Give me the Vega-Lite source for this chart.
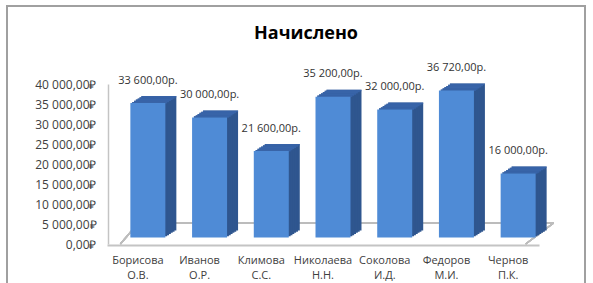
{
  "$schema": "https://vega.github.io/schema/vega-lite/v6.json",
  "width": 578,
  "height": 300,
  "padding": {"left": 7, "top": 6, "right": 8, "bottom": 0},
  "autosize": {"type": "none"},
  "background": "white",
  "title": {"text": "Начислено", "fontSize": 18, "fontWeight": "bold", "font": "Open Sans", "color": "#000000", "anchor": "middle", "offset": -37, "dx": 10},
  "config": {
    "locale": {"number": {"decimal": ",", "thousands": " ", "grouping": [3], "currency": ["", "р."]}},
    "view": {"stroke": "#a0a0a0", "strokeWidth": 2},
    "font": "Open Sans"
  },
  "data": {"values": [
    {"name": "Борисова О.В.", "value": 33600},
    {"name": "Иванов О.Р.", "value": 30000},
    {"name": "Климова С.С.", "value": 21600},
    {"name": "Николаева Н.Н.", "value": 35200},
    {"name": "Соколова И.Д.", "value": 32000},
    {"name": "Федоров М.И.", "value": 36720},
    {"name": "Чернов П.К.", "value": 16000}
  ]},
  "encoding": {
    "x": {"field": "name", "type": "nominal", "sort": null,
      "scale": {"domain": ["Борисова О.В.", "Иванов О.Р.", "Климова С.С.", "Николаева Н.Н.", "Соколова И.Д.", "Федоров М.И.", "Чернов П.К."], "range": [100, 532], "paddingInner": 0.433, "paddingOuter": 0.2165},
      "axis": {"title": null, "orient": "bottom", "offset": -61, "domainColor": "#c4c4c4", "domainWidth": 2, "ticks": false, "labelPadding": 9, "labelFontSize": 11, "labelColor": "#404040", "labelExpr": "split(datum.label, ' ')", "labelLineHeight": 15, "labelAngle": 0, "labelBaseline": "top"}},
    "y": {"field": "value", "type": "quantitative",
      "scale": {"domain": [0, 40000], "range": [238, 78], "nice": false, "zero": true},
      "axis": {"title": null, "offset": -101, "values": [0, 5000, 10000, 15000, 20000, 25000, 30000, 35000, 40000], "labelExpr": "format(datum.value, ',.2f') + '₽'", "domainColor": "#c4c4c4", "domainWidth": 1.5, "ticks": false, "tickSize": 0, "grid": false, "labelPadding": 12, "labelFontSize": 12, "labelColor": "#404040"}}
  },
  "layer": [
    {"mark": {"type": "rule", "color": "#bdbdbd", "strokeWidth": 1.5, "xOffset": 18, "x2Offset": 28},
     "encoding": {"x": {"datum": "Борисова О.В.", "bandPosition": 0}, "x2": {"datum": "Чернов П.К.", "bandPosition": 1}, "y": {"datum": 5250}}},
    {"mark": {"type": "rule", "color": "#bdbdbd", "strokeWidth": 1.5, "x2Offset": 18},
     "encoding": {"x": {"datum": "Борисова О.В.", "bandPosition": 0}, "x2": {"datum": "Борисова О.В.", "bandPosition": 0}, "y": {"datum": 0}, "y2": {"datum": 5250}}},
    {"mark": {"type": "rule", "color": "#bdbdbd", "strokeWidth": 1.5, "x2Offset": 28},
     "encoding": {"x": {"datum": "Чернов П.К.", "bandPosition": 1}, "x2": {"datum": "Чернов П.К.", "bandPosition": 1}, "y": {"datum": 0}, "y2": {"datum": 5250}}},
    {"mark": {"type": "bar", "color": "#2f568f", "xOffset": 21, "yOffset": -13.5}},
    {"mark": {"type": "bar", "color": "#2f568f", "xOffset": 19.17, "yOffset": -12.33}},
    {"mark": {"type": "bar", "color": "#2f568f", "xOffset": 17.33, "yOffset": -11.17}},
    {"mark": {"type": "bar", "color": "#2f568f", "xOffset": 15.5, "yOffset": -10}},
    {"mark": {"type": "bar", "color": "#2f568f", "xOffset": 13.67, "yOffset": -8.83}},
    {"mark": {"type": "bar", "color": "#2f568f", "xOffset": 11.83, "yOffset": -7.67}},
    {"mark": {"type": "tick", "color": "#3c6ab0", "size": 35, "thickness": 1.5, "orient": "horizontal", "xOffset": 21, "yOffset": -12.8}},
    {"mark": {"type": "tick", "color": "#3c6ab0", "size": 35, "thickness": 1.5, "orient": "horizontal", "xOffset": 19.17, "yOffset": -11.6}},
    {"mark": {"type": "tick", "color": "#3c6ab0", "size": 35, "thickness": 1.5, "orient": "horizontal", "xOffset": 17.33, "yOffset": -10.45}},
    {"mark": {"type": "tick", "color": "#3c6ab0", "size": 35, "thickness": 1.5, "orient": "horizontal", "xOffset": 15.5, "yOffset": -9.3}},
    {"mark": {"type": "tick", "color": "#3c6ab0", "size": 35, "thickness": 1.5, "orient": "horizontal", "xOffset": 13.67, "yOffset": -8.1}},
    {"mark": {"type": "tick", "color": "#3c6ab0", "size": 35, "thickness": 1.5, "orient": "horizontal", "xOffset": 11.83, "yOffset": -6.95}},
    {"mark": {"type": "bar", "color": "#4f8bd6", "xOffset": 10, "yOffset": -6.5}},
    {"mark": {"type": "text", "dx": 10, "dy": -29, "fontSize": 11, "color": "#333333"},
     "encoding": {"text": {"field": "value", "type": "quantitative", "format": "$,.2f"}}}
  ]
}
